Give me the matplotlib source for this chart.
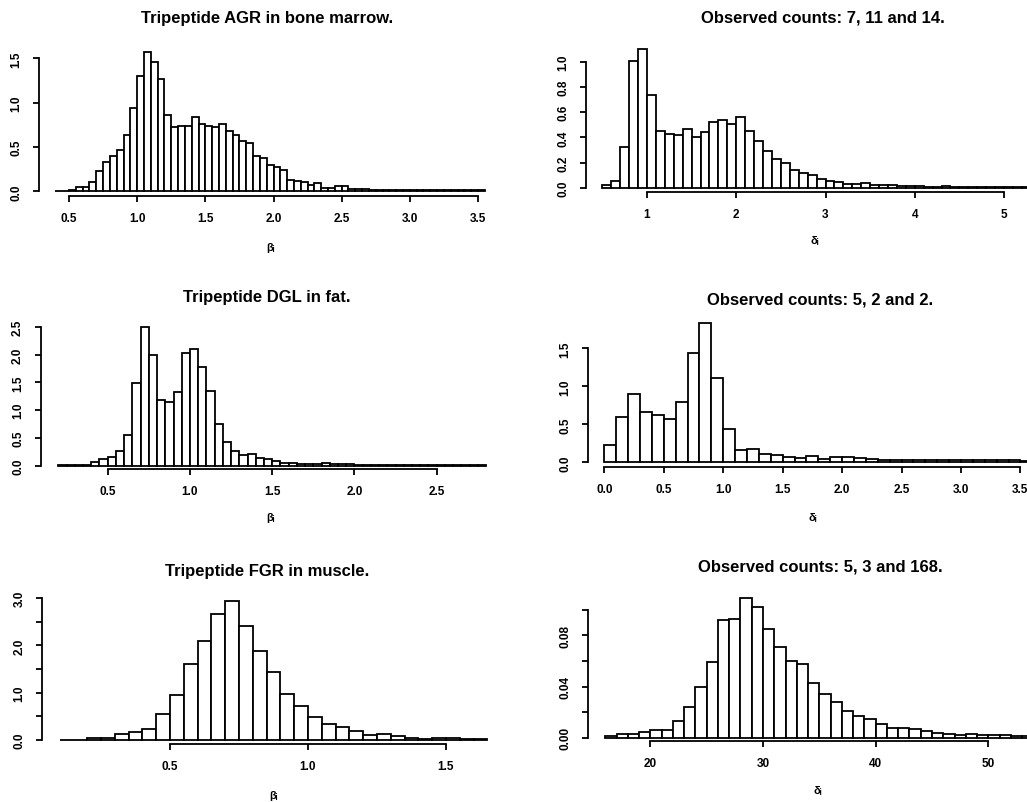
import numpy as np
import matplotlib
matplotlib.use("Agg")
import matplotlib.pyplot as plt

plt.rcParams['font.family'] = ['Liberation Sans', 'DejaVu Sans']

# ---- posterior histograms (density scale) ----
agr_start, agr_width = 0.40, 0.05
agr_density = [0.003, 0.006, 0.02, 0.05, 0.045, 0.11, 0.225, 0.33, 0.40, 0.47,
               0.635, 0.94, 1.30, 1.575, 1.455, 1.27, 0.86, 0.72, 0.74, 0.74,
               0.84, 0.755, 0.737, 0.725, 0.763, 0.677, 0.64, 0.57, 0.54, 0.40,
               0.375, 0.295, 0.27, 0.245, 0.13, 0.115, 0.10, 0.075, 0.09, 0.035,
               0.04, 0.055, 0.06, 0.03, 0.025, 0.025, 0.02, 0.02,
               0.018, 0.016, 0.016, 0.015, 0.016, 0.015, 0.018, 0.015, 0.015, 0.014,
               0.014, 0.014, 0.013, 0.013, 0.013]

agr_delta_start, agr_delta_width = 0.5, 0.1
agr_delta_density = [0.026, 0.058, 0.325, 1.008, 1.10, 0.74, 0.45, 0.43, 0.42, 0.47,
                     0.40, 0.44, 0.52, 0.535, 0.505, 0.56, 0.455, 0.37, 0.295, 0.232,
                     0.198, 0.14, 0.116, 0.10, 0.07, 0.055, 0.045, 0.028, 0.03, 0.04,
                     0.025, 0.02, 0.022, 0.018, 0.015, 0.012, 0.01, 0.01, 0.012, 0.01,
                     0.008, 0.008, 0.008, 0.01, 0.008, 0.008, 0.007, 0.007, 0.006,
                     0.006, 0.005]

dgl_start, dgl_width = 0.20, 0.05
dgl_density = [0.005, 0.005, 0.005, 0.008, 0.06, 0.125, 0.15, 0.27, 0.56, 1.48,
               2.50, 2.00, 1.19, 1.15, 1.33, 2.03, 2.09, 1.77, 1.35, 0.75,
               0.43, 0.26, 0.19, 0.215, 0.13, 0.12, 0.09, 0.055, 0.045, 0.035,
               0.03, 0.03, 0.04, 0.03, 0.03, 0.03,
               0.02, 0.02, 0.018, 0.015, 0.015, 0.012, 0.012, 0.01, 0.01, 0.01,
               0.01, 0.008, 0.008, 0.008, 0.008, 0.015]

dgl_delta_start, dgl_delta_width = 0.0, 0.1
dgl_delta_density = [0.232, 0.596, 0.90, 0.66, 0.627, 0.575, 0.79, 1.434, 1.83, 1.105,
                     0.443, 0.167, 0.175, 0.114, 0.096, 0.066, 0.06, 0.083, 0.048, 0.07,
                     0.07, 0.053, 0.044, 0.035, 0.03, 0.035, 0.03, 0.025, 0.03, 0.025,
                     0.03, 0.035, 0.025, 0.025, 0.025, 0.02, 0.02]

fgr_start, fgr_width = 0.10, 0.05
fgr_density = [0.005, 0.01, 0.035, 0.04, 0.12, 0.176, 0.232, 0.54, 0.96, 1.61,
               2.085, 2.655, 2.94, 2.41, 1.88, 1.44, 0.965, 0.71, 0.49, 0.33,
               0.275, 0.183, 0.10, 0.12, 0.09, 0.04, 0.03, 0.035, 0.045, 0.03, 0.02]

fgr_delta_start, fgr_delta_width = 16, 1
fgr_delta_density = [0.001, 0.003, 0.0029, 0.0047, 0.0063, 0.006, 0.0128, 0.0237, 0.0396,
                     0.0589, 0.0922, 0.0925, 0.109, 0.1024, 0.0852, 0.0706, 0.0599,
                     0.0573, 0.043, 0.0341, 0.0276, 0.0211, 0.0167, 0.0146, 0.0107,
                     0.0073, 0.0076, 0.0065, 0.0055, 0.004, 0.0026, 0.0023, 0.0029,
                     0.0018, 0.002, 0.0018, 0.0015, 0.0012, 0.001]

titles = ["Tripeptide AGR in bone marrow.", "Observed counts: 7, 11 and 14.",
          "Tripeptide DGL in fat.", "Observed counts: 5, 2 and 2.",
          "Tripeptide FGR in muscle.", "Observed counts: 5, 3 and 168."]
xlabels = ["β\u1d62", "δ\u1d62", "β\u1d62", "δ\u1d62", "β\u1d62", "δ\u1d62"]

xticks = [[0.5, 1.0, 1.5, 2.0, 2.5, 3.0, 3.5],
          [1, 2, 3, 4, 5],
          [0.5, 1.0, 1.5, 2.0, 2.5],
          [0.0, 0.5, 1.0, 1.5, 2.0, 2.5, 3.0, 3.5],
          [0.5, 1.0, 1.5],
          [20, 30, 40, 50]]
xticklabels = [["0.5", "1.0", "1.5", "2.0", "2.5", "3.0", "3.5"],
               ["1", "2", "3", "4", "5"],
               ["0.5", "1.0", "1.5", "2.0", "2.5"],
               ["0.0", "0.5", "1.0", "1.5", "2.0", "2.5", "3.0", "3.5"],
               ["0.5", "1.0", "1.5"],
               ["20", "30", "40", "50"]]
yticks = [[0.0, 0.5, 1.0, 1.5],
          [0.0, 0.2, 0.4, 0.6, 0.8, 1.0],
          [0.0, 0.5, 1.0, 1.5, 2.0, 2.5],
          [0.0, 0.5, 1.0, 1.5],
          [0.0, 0.5, 1.0, 1.5, 2.0, 2.5, 3.0],
          [0.0, 0.02, 0.04, 0.06, 0.08, 0.10]]
yticklabels = [["0.0", "0.5", "1.0", "1.5"],
               ["0.0", "0.2", "0.4", "0.6", "0.8", "1.0"],
               ["0.0", "0.5", "1.0", "1.5", "2.0", "2.5"],
               ["0.0", "0.5", "1.0", "1.5"],
               ["0.0", "", "1.0", "", "2.0", "", "3.0"],
               ["0.00", "", "0.04", "", "0.08", ""]]

hists = [(agr_start, agr_width, agr_density),
         (agr_delta_start, agr_delta_width, agr_delta_density),
         (dgl_start, dgl_width, dgl_density),
         (dgl_delta_start, dgl_delta_width, dgl_delta_density),
         (fgr_start, fgr_width, fgr_density),
         (fgr_delta_start, fgr_delta_width, fgr_delta_density)]

# ---- page layout in pixels ----
W, H = 1027, 803
# box: left, right, bottom (x-axis line), top ; xmap/ymap: two reference (value, pixel) pairs
layout = [
    dict(box=(39, 492, 197.3, 45), xmap=(0.5, 69, 3.5, 478), ymap=(0.0, 192.3, 1.5, 59.3),
         title=(267, 18), xlab=(270, 248)),
    dict(box=(585.7, 1070, 192.7, 45), xmap=(1, 647, 5, 1004), ymap=(0.0, 189, 1.0, 62.7),
         title=(823, 18), xlab=(815, 241)),
    dict(box=(40.7, 492, 470, 322), xmap=(0.5, 107.7, 2.5, 436.7), ymap=(0.0, 466.7, 2.5, 327.7),
         title=(267, 298), xlab=(270, 518)),
    dict(box=(587.7, 1070, 467.7, 318), xmap=(0.0, 604.3, 3.0, 961), ymap=(0.0, 463.3, 1.5, 349.3),
         title=(820, 300), xlab=(813, 518)),
    dict(box=(42.3, 492, 745, 595), xmap=(0.5, 170, 1.5, 446), ymap=(0.0, 741, 3.0, 599),
         title=(267, 572), xlab=(273, 796)),
    dict(box=(588.3, 1070, 742.3, 590), xmap=(20, 650.3, 50, 988.3), ymap=(0.0, 738.7, 0.08, 636.3),
         title=(820, 567), xlab=(818, 791)),
]


def px_to_val(p, m):
    v1, p1, v2, p2 = m
    return v1 + (p - p1) * (v2 - v1) / (p2 - p1)


fig = plt.figure(figsize=(W / 100, H / 100), dpi=100)
fig.patch.set_facecolor("white")

for i in range(6):
    lay = layout[i]
    left, right, bottom, top = lay["box"]
    ax = fig.add_axes([left / W, 1 - bottom / H, (right - left) / W, (bottom - top) / H])
    ax.set_xlim(px_to_val(left, lay["xmap"]), px_to_val(right, lay["xmap"]))
    ax.set_ylim(px_to_val(bottom, lay["ymap"]), px_to_val(top, lay["ymap"]))

    start, width, dens = hists[i]
    edges = start + width * np.arange(len(dens))
    ax.bar(edges, dens, width=width, align="edge", facecolor="white",
           edgecolor="black", linewidth=1.3)

    for s in ("top", "right"):
        ax.spines[s].set_visible(False)
    for s in ("left", "bottom"):
        ax.spines[s].set_linewidth(1.3)
    ax.spines["bottom"].set_bounds(xticks[i][0], xticks[i][-1])
    ax.spines["left"].set_bounds(yticks[i][0], yticks[i][-1])

    ax.set_xticks(xticks[i])
    ax.set_xticklabels(xticklabels[i], fontsize=8.5, fontweight="bold")
    ax.set_yticks(yticks[i])
    ax.set_yticklabels(yticklabels[i], fontsize=8.5, fontweight="bold",
                       rotation=90, va="center")
    ax.tick_params(axis="x", direction="out", length=4.5, width=1.3, pad=7)
    ax.tick_params(axis="y", direction="out", length=4, width=1.3, pad=8)
    ax.patch.set_alpha(0)

    tx, ty = lay["title"]
    fig.text(tx / W, 1 - ty / H, titles[i], ha="center", va="center",
             fontsize=12, fontweight="bold")
    lx, ly = lay["xlab"]
    fig.text(lx / W, 1 - ly / H, xlabels[i], ha="center", va="center",
             fontsize=8, fontweight="bold")

fig.savefig("out.png", dpi=100, facecolor="white")
